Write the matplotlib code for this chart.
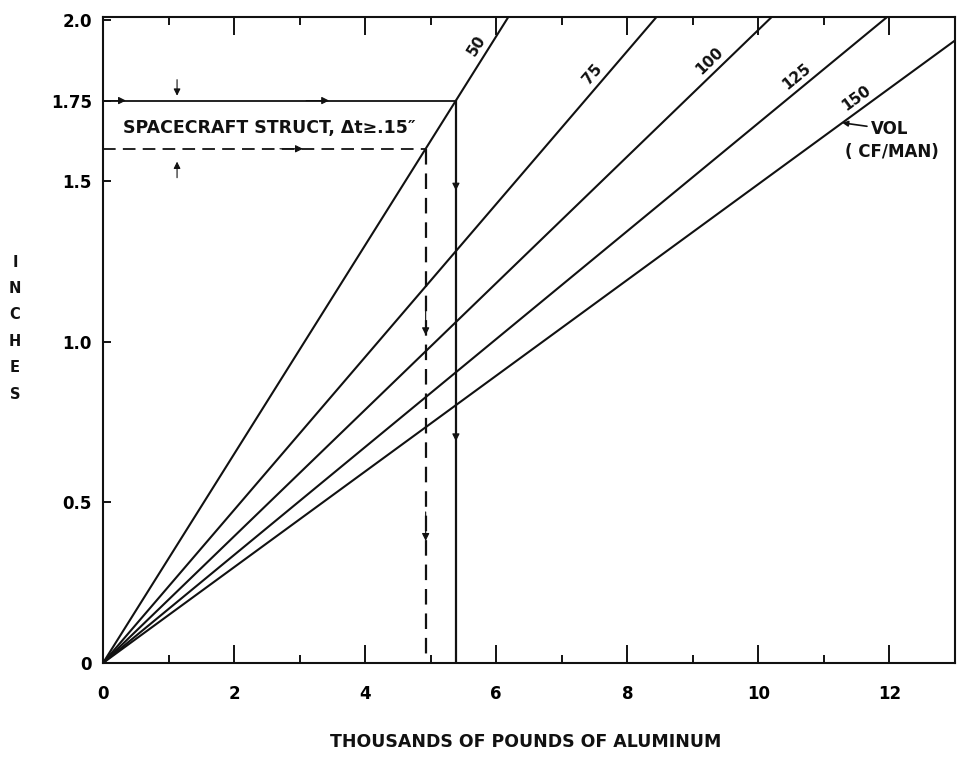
import numpy as np
import matplotlib
matplotlib.use("Agg")
import matplotlib.pyplot as plt

# crew volume (cubic feet per man) and wall thickness slope (inches per 1000 lb aluminum)
volumes = [50, 75, 100, 125, 150]
slopes = [0.325, 0.238, 0.197, 0.168, 0.149]
label_x = [5.85, 7.60, 9.38, 10.70, 11.60]

x_ticks = [0, 2, 4, 6, 8, 10, 12]
y_ticks = [0, 0.5, 1.0, 1.5, 1.75, 2.0]
y_tick_labels = ["0", "0.5", "1.0", "1.5", "1.75", "2.0"]

# spacecraft structure thickness band
t_upper = 1.75
t_lower = 1.60

plt.rcParams["font.family"] = ["DejaVu Sans"]

fig = plt.figure(figsize=(9.57, 7.57), dpi=100)
ax = fig.add_axes([103 / 957, 94 / 757, 852 / 957, 646 / 757])
ax.set_xlim(0, 13)
ax.set_ylim(0, 2.01)

ink = "#111111"
lw = 1.5


def screen_angle(s):
    p0 = ax.transData.transform((0, 0))
    p1 = ax.transData.transform((1, s))
    return np.degrees(np.arctan2(p1[1] - p0[1], p1[0] - p0[0]))


for vol, s, lx in zip(volumes, slopes, label_x):
    x_end = min(13, 2.01 / s)
    ax.plot([0, x_end], [0, s * x_end], color=ink, lw=lw, solid_capstyle="butt")
    ang = screen_angle(s)
    nx, ny = -np.sin(np.radians(ang)) * 3, np.cos(np.radians(ang)) * 3
    ax.annotate(str(vol), xy=(lx, s * lx), xytext=(nx, ny), textcoords="offset points",
                rotation=ang, rotation_mode="anchor", ha="center", va="bottom",
                fontsize=11, fontweight="bold", color=ink)


def arrowhead(x0, y0, x1, y1, size=11):
    ax.annotate("", xy=(x1, y1), xytext=(x0, y0),
                arrowprops=dict(arrowstyle="-|>", color=ink, lw=0.8,
                                mutation_scale=size, shrinkA=0, shrinkB=0))


# solid path: 1.75 in -> 50 CF/MAN line -> down to weight
xs = t_upper / slopes[0]
ax.plot([0, xs], [t_upper, t_upper], color=ink, lw=1.3)
ax.plot([xs, xs], [t_upper, 0], color=ink, lw=1.6)
arrowhead(0.05, t_upper, 0.35, t_upper)
arrowhead(3.1, t_upper, 3.45, t_upper)
arrowhead(xs, 1.56, xs, 1.47)
arrowhead(xs, 0.78, xs, 0.69)

# dashed path: 1.60 in -> 50 CF/MAN line -> down to weight
xd = t_lower / slopes[0]
ax.plot([0, xd], [t_lower, t_lower], color=ink, lw=1.3, dashes=(7, 4))
ax.plot([xd, xd], [t_lower, 0], color=ink, lw=1.6, dashes=(7, 4))
arrowhead(2.7, t_lower, 3.05, t_lower)
arrowhead(xd, 1.11, xd, 1.02)
arrowhead(xd, 0.47, xd, 0.38)

# delta-t markers
arrowhead(1.13, 1.815, 1.13, 1.765, size=10)
arrowhead(1.13, 1.51, 1.13, 1.56, size=10)

ax.text(0.3, 1.665, "SPACECRAFT STRUCT, \u0394t\u2265.15\u2033", fontsize=12.5,
        fontweight="bold", color=ink, va="center", ha="left")

ax.annotate("VOL", xy=(11.28, 11.28 * slopes[4]), xytext=(11.72, 1.66),
            fontsize=12, fontweight="bold", color=ink, va="center", ha="left",
            arrowprops=dict(arrowstyle="-|>", color=ink, lw=1.2, mutation_scale=8,
                            shrinkA=1, shrinkB=0))
ax.text(12.03, 1.59, "( CF/MAN)", fontsize=12, fontweight="bold", color=ink,
        va="center", ha="center")

# axes styling
for sp in ax.spines.values():
    sp.set_color(ink)
    sp.set_linewidth(1.5)

ax.set_xticks(x_ticks)
ax.set_xticks([1, 3, 5, 7, 9, 11], minor=True)
ax.set_yticks(y_ticks)
ax.set_yticklabels(y_tick_labels)
ax.tick_params(axis="x", which="major", direction="in", length=13, width=1.3,
               top=True, pad=16, labelsize=12)
ax.tick_params(axis="x", which="minor", direction="in", length=6, width=1.3, top=True)
ax.tick_params(axis="y", which="major", direction="in", length=6, width=1.3,
               pad=8, labelsize=12)
for lab in ax.get_xticklabels() + ax.get_yticklabels():
    lab.set_fontweight("bold")

fig.text(526 / 957, 1 - 742 / 757, "THOUSANDS OF POUNDS OF ALUMINUM",
         fontsize=12.5, fontweight="bold", ha="center", va="center", color=ink)
fig.text(15 / 957, 1 - 328 / 757, "I\nN\nC\nH\nE\nS", fontsize=10.5,
         fontweight="bold", ha="center", va="center", linespacing=1.95, color=ink)

fig.savefig("out.png", dpi=100)
